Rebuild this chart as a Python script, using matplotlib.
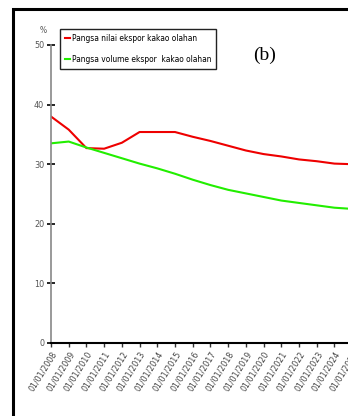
import matplotlib
matplotlib.use("Agg")
import matplotlib.pyplot as plt
from matplotlib.patches import Rectangle
from matplotlib import font_manager
from matplotlib.font_manager import FontProperties

years = list(range(2008, 2026))
nilai = [38.0, 35.8, 32.7, 32.6, 33.6, 35.4, 35.4, 35.4, 34.6, 33.9,
         33.1, 32.3, 31.7, 31.3, 30.8, 30.5, 30.1, 30.0]
volume = [33.5, 33.8, 32.8, 31.9, 31.0, 30.1, 29.3, 28.4, 27.4, 26.5,
          25.7, 25.1, 24.5, 23.9, 23.5, 23.1, 22.7, 22.5]
tick_labels = ["01/01/%d" % y for y in years]
yticks = [0, 10, 20, 30, 40, 50]

# look for a narrow sans font, otherwise fall back to Liberation Sans
narrow_file = None
for f in font_manager.fontManager.ttflist:
    fn = f.fname.lower()
    if ("narrow" in fn or "condensed" in fn) and "bold" not in fn and "oblique" not in fn \
            and "italic" not in fn and "mono" not in fn and "serif" not in fn:
        narrow_file = f.fname
        break


def fp(size, italic=False):
    if narrow_file:
        return FontProperties(fname=narrow_file, size=size)
    return FontProperties(family="Liberation Sans", size=size,
                          style="italic" if italic else "normal")


fig = plt.figure(figsize=(3.48, 4.16), dpi=100)
W, H = 348, 416
ax = fig.add_axes([51 / W, (H - 343) / H, (361 - 51) / W, (343 - 45) / H])

ax.plot(years, nilai, color="#ee0000", lw=1.5, label="Pangsa nilai ekspor kakao olahan")
ax.plot(years, volume, color="#22ee00", lw=1.5, label="Pangsa volume ekspor  kakao olahan")

ax.set_xlim(2008, 2025.5)
ax.set_ylim(0, 50)
ax.set_xticks(years)
ax.set_xticklabels(tick_labels, rotation=58, ha="right", rotation_mode="anchor",
                   fontproperties=fp(6.3 if narrow_file else 5.5, italic=True), color="#444444")
ax.set_yticks(yticks)
ax.set_yticklabels([str(v) for v in yticks], fontproperties=fp(6.5), color="#555555")
ax.tick_params(axis="y", direction="inout", length=6, width=1.2, color="black", pad=2)
ax.tick_params(axis="x", direction="out", length=3, width=1.0, color="#333333", pad=2)

for s in ["top", "right"]:
    ax.spines[s].set_visible(False)
ax.spines["left"].set_color("#888888")
ax.spines["left"].set_linewidth(1.2)
ax.spines["bottom"].set_color("black")
ax.spines["bottom"].set_linewidth(1.5)

ax.text(-0.025, 1.04, "%", transform=ax.transAxes, fontproperties=fp(6),
        color="#555555", ha="center")

leg = ax.legend(loc="upper left", bbox_to_anchor=(9 / 310, 1 + 16 / 298),
                prop=fp(6 if narrow_file else 5.5), borderaxespad=0,
                handlelength=0.6, handletextpad=0.2, fancybox=False, edgecolor="#222222",
                framealpha=1, borderpad=0.6, labelspacing=1.4)
leg.get_frame().set_linewidth(1.0)

fig.text(265 / W, 1 - 55 / H, "(b)", fontsize=14, family="Liberation Serif",
         ha="center", va="center")

fig.patches.append(Rectangle((13 / W, -0.1), 2, 1.1 - 9 / H, transform=fig.transFigure,
                             fill=False, lw=2.2, edgecolor="black"))

fig.savefig("out.png", dpi=100)
